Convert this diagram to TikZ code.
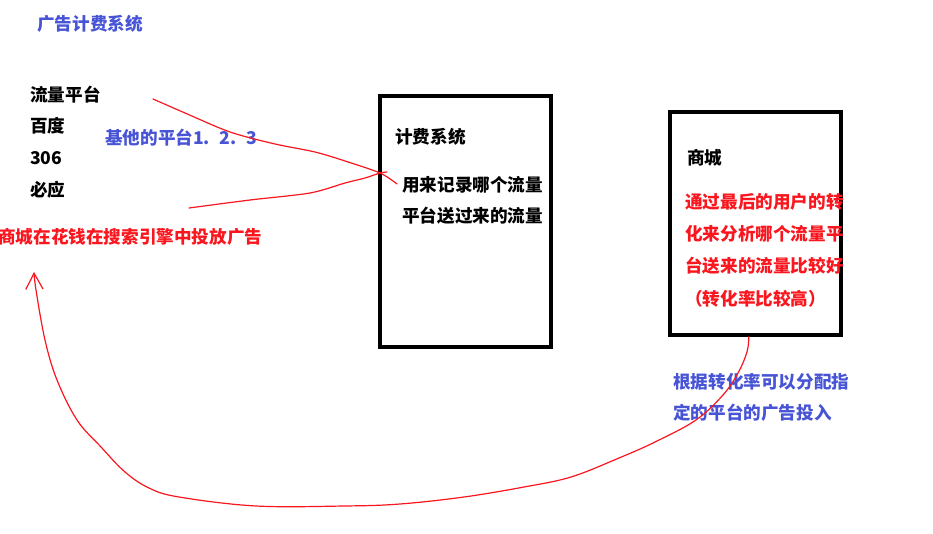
\documentclass[tikz,border=0pt]{standalone}
\usepackage{fontspec}
\newfontfamily\cjk{Noto Sans CJK SC}
\usetikzlibrary{arrows.meta}
\definecolor{inkblue}{RGB}{72,84,214}
\definecolor{inkred}{RGB}{250,22,30}
\begin{document}
\begin{tikzpicture}[x=0.75pt, y=-0.75pt,
    txt/.style={anchor=west, inner sep=0pt, font=\cjk\bfseries\fontsize{13.2}{16}\selectfont},
    blue/.style={txt, text=inkblue},
    red/.style={txt, text=inkred},
    frame/.style={draw, line width=3pt, inner sep=0pt, minimum width=128pt},
    pen/.style={inkred, line width=0.9pt, line cap=round}]
    \useasboundingbox (0,0) rectangle (933,534);
    % Titel
    \node[blue] (title) at (37,24) {广告计费系统};
    % Plattformen
    \node[txt] (flow) at (30,95) {流量平台};
    \node[txt] (baidu) at (30,126) {百度};
    \node[txt] (n306) at (30,158) {306};
    \node[txt] (bing) at (30,190) {必应};
    \node[blue] (other) at (105,138) {基他的平台1.\hspace{0.55em}2.\hspace{0.55em}3};
    \node[red] (buy) at (-2,237) {商城在花钱在搜索引擎中投放广告};
    % Kasten
    \node[frame, minimum height=188pt] (billing) at (465.5,221.5) {};
    \node[frame, minimum height=167pt] (mall) at (755.5,223.5) {};
    \node[txt] (billtitle) at (395,137) {计费系统};
    \node[txt] (rec1) at (402,185) {用来记录哪个流量};
    \node[txt] (rec2) at (402,216) {平台送过来的流量};
    \node[txt] (malltitle) at (687,158) {商城};
    \node[red] (why1) at (685,202) {通过最后的用户的转};
    \node[red] (why2) at (685,234) {化来分析哪个流量平};
    \node[red] (why3) at (685,266) {台送来的流量比较好};
    \node[red] (why4) at (685,299) {（转化率比较高）};
    \node[blue] (plan1) at (673,382) {根据转化率可以分配指};
    \node[blue] (plan2) at (673,413) {定的平台的广告投入};
    % Striche
    \coordinate (hit) at (380,173);
    \draw[pen] plot[smooth] coordinates {(153,99) (185,113) (230,132) (275,144) (315,152) (345,161) (hit) (397,184)};
    \draw[pen] plot[smooth] coordinates {(189,208) (250,200) (310,193) (345,183) (365,178) (hit) (387,172)};
    \draw[pen, -{Straight Barb[length=12pt, width=13pt]}] plot[smooth, tension=0.6] coordinates {([xshift=-5pt]mall.south) (747,352) (738,373) (723,395) (696,420) (655,442) (619,458) (571,477) (524,487) (464,497) (400,504) (345,506) (256,506) (179,497) (149,488) (125,472) (101,447) (77,420) (57,380) (45,340) (36,290) (34,272)};
\end{tikzpicture}
\end{document}
